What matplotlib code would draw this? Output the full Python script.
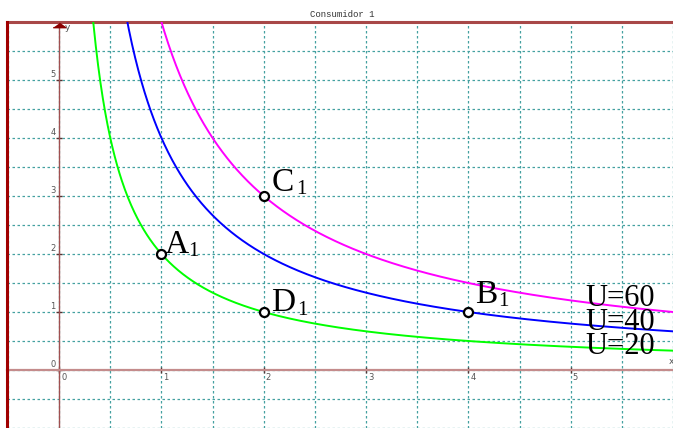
import numpy as np
import matplotlib
matplotlib.use('Agg')
import matplotlib.pyplot as plt
from matplotlib.transforms import ScaledTranslation

# ---- data ----
title = 'Consumidor 1'
utility_levels = [20, 40, 60]          # U = 10 * x * y
utility_scale = 10
curve_colors = ['#00ff00', '#0000ff', '#ff00ff']
curve_labels = ['U=20', 'U=40', 'U=60']
point_names = ['A', 'B', 'C', 'D']
point_x = [1, 4, 2, 2]
point_y = [2, 1, 3, 1]
x_ticks = [0, 1, 2, 3, 4, 5]
y_ticks = [0, 1, 2, 3, 4, 5]

# ---- layout ----
W, H = 673, 428
fig = plt.figure(figsize=(W / 100, H / 100), dpi=100)
left_px, top_px = 7, 22
pos = [left_px / W, 0, 1 - left_px / W, (H - top_px) / H]
ax = fig.add_axes(pos)
x0px, xs = 59.5, 103.0
y0px, ys = 373.0, 58.5
ax.set_xlim((left_px - x0px) / xs, (W - x0px) / xs)
ax.set_ylim((y0px - H) / ys, (y0px - top_px) / ys)
ax.set_facecolor('white')

# grid every 0.5
ax.set_xticks(x_ticks)
ax.set_yticks(y_ticks)
ax.set_xticks(np.arange(-0.5, 6.01, 0.5), minor=True)
ax.set_yticks(np.arange(-1.0, 6.01, 0.5), minor=True)
ax.grid(which='both', color='#44a0a0', linestyle=(0, (2, 2)), linewidth=0.9)
ax.set_axisbelow(True)

# axes through origin
ax.spines['left'].set_position(('data', 0))
ax.spines['bottom'].set_position(('data', 0))
ax.spines['left'].set_color('#a05050')
ax.spines['left'].set_linewidth(1.0)
ax.spines['bottom'].set_color('#c48c8c')
ax.spines['bottom'].set_linewidth(1.6)
ax.spines['right'].set_visible(False)
ax.spines['top'].set_color('#a84848')
ax.spines['top'].set_linewidth(2.2)

ax.tick_params(which='major', direction='inout', length=4, width=1,
               color='#553333', labelsize=6, labelcolor='#555555', pad=0.5)
ax.tick_params(which='minor', length=0)
dx = ScaledTranslation(2 / 100, 0, fig.dpi_scale_trans)
for lbl in ax.get_xticklabels():
    lbl.set_horizontalalignment('left')
    lbl.set_transform(lbl.get_transform() + dx)
dy = ScaledTranslation(0, 1 / 100, fig.dpi_scale_trans)
for lbl in ax.get_yticklabels():
    lbl.set_verticalalignment('bottom')
    lbl.set_transform(lbl.get_transform() + dy)

# left frame border
fa = fig.add_axes(pos, facecolor='none')
fa.set_xticks([])
fa.set_yticks([])
for s in ['top', 'right', 'bottom']:
    fa.spines[s].set_visible(False)
fa.spines['left'].set_color('#a00000')
fa.spines['left'].set_linewidth(2.2)

# curves
xv = np.linspace(0.05, 6.2, 800)
for U, c in zip(utility_levels, curve_colors):
    ax.plot(xv, U / (utility_scale * xv), color=c, lw=1.4, zorder=3)

# curve labels
serif = 'Liberation Serif'
label_pos = [(5.14, 0.274), (5.14, 0.684), (5.14, 1.11)]
for (lx, ly), t in zip(label_pos, curve_labels):
    ax.text(lx, ly, t, family=serif, fontsize=22, va='baseline', ha='left',
            color='black', zorder=4)

# points
ax.plot(point_x, point_y, 'o', ms=6.5, mfc='white', mec='black', mew=1.6,
        zorder=5, clip_on=False)
letter_off = {'A': (3.5, 1), 'B': (7, 9), 'C': (8, 5), 'D': (7.5, 0.7)}
sub_off = {'A': (27, -1.7), 'B': (30, 5.7), 'C': (32, 2.5), 'D': (33.5, -2.7)}
for n, px, py in zip(point_names, point_x, point_y):
    ax.annotate(n, (px, py), xytext=letter_off[n], textcoords='offset pixels',
                family=serif, fontsize=24, va='baseline', ha='left', zorder=6)
    ax.annotate('1', (px, py), xytext=sub_off[n], textcoords='offset pixels',
                family=serif, fontsize=15, va='baseline', ha='left', zorder=6)

# y-axis arrow and axis names
ytop = ax.get_ylim()[1]
ax.plot([0], [ytop], marker=[(-1, -0.35), (1, -0.35), (0, 0.35)], ms=9,
        color='#8b0000', transform=ax.transData + ScaledTranslation(0, -3 / 100, fig.dpi_scale_trans),
        clip_on=False, zorder=6)
ax.annotate('y', (0, ytop), xytext=(6, -6), textcoords='offset pixels',
            fontsize=6.5, color='#555555', va='center', ha='left')
ax.annotate('x', (ax.get_xlim()[1], 0), xytext=(-4, 8), textcoords='offset pixels',
            fontsize=6.5, color='#555555', va='center', ha='left', annotation_clip=False)

fig.text(342 / W, 1 - 17 / H, title, family='Liberation Mono', fontsize=6.5,
         ha='center', va='baseline', color='#333333')

fig.savefig('out.png', dpi=100)
